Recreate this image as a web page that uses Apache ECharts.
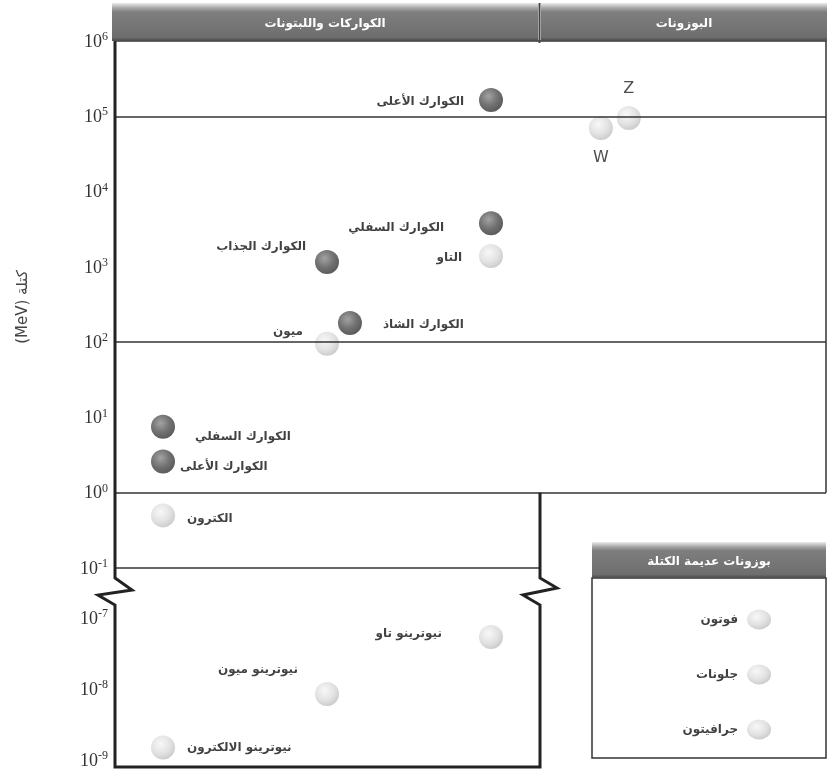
<!DOCTYPE html>
<html lang="ar">
<head>
    <meta charset="UTF-8">
    <title>كتلة الجسيمات</title>
    <style>
        html, body {margin: 0; padding: 0; background: #fff;}
    </style>
</head>
<body>
<div id="chart" style="width: 830px;height: 770px;"></div>
<script src="https://cdn.jsdelivr.net/npm/echarts@6/dist/echarts.min.js"></script>
<script>
    // quarks: up, down, strange, charm, bottom, top
    var quarkNames = ['الكوارك الأعلى', 'الكوارك السفلي', 'الكوارك الشاذ', 'الكوارك الجذاب', 'الكوارك السفلي', 'الكوارك الأعلى'];
    var quarkMass = [2.6, 7.5, 180, 1160, 3800, 165000];
    var quarkColumn = [1, 1, 2.14, 2, 3, 3];

    // charged leptons
    var leptonNames = ['الكترون', 'ميون', 'التاو'];
    var leptonMass = [0.5, 95, 1390];
    var leptonColumn = [1, 2, 3];

    var bosonNames = ['W', 'Z'];
    var bosonMass = [70000, 95000];
    var bosonColumn = [3.67, 3.84];

    var neutrinoNames = ['نيوترينو الالكترون', 'نيوترينو ميون', 'نيوترينو تاو'];
    var neutrinoMass = [1.5e-9, 8.5e-9, 5.4e-8];
    var neutrinoColumn = [1, 2, 3];

    var masslessNames = ['فوتون', 'جلونات', 'جرافيتون'];

    var decadeLines = [1e5, 1e2, 1];
    var headerTitles = ['الكواركات واللبتونات', 'البوزونات', 'بوزونات عديمة الكتلة'];
    var axisTitle = '(MeV) كتلة';

    // layout
    var L = 115, TOP = 41, MID = 540, R = 826;
    var PX = 164;                 // pixels per column
    var XMIN = 1 - 48 / PX;
    var upperMax = XMIN + (R - L) / PX;
    var lowerMax = XMIN + (MID - L) / PX;

    // label placement (style only)
    var quarkLabels = [
        {position: 'right', distance: 5, offset: [0, 5]},
        {position: 'right', distance: 20, offset: [0, 10]},
        {position: 'right', distance: 21, offset: [0, 2]},
        {position: 'left', distance: 9, offset: [0, -15]},
        {position: 'left', distance: 35, offset: [0, 5]},
        {position: 'left', distance: 15, offset: [0, 2]}
    ];
    var leptonLabels = [
        {position: 'right', distance: 12, offset: [0, 3]},
        {position: 'left', distance: 12, offset: [0, -12]},
        {position: 'left', distance: 17, offset: [0, 2]}
    ];
    var bosonLabels = [
        {position: 'bottom', distance: 10},
        {position: 'top', distance: 9}
    ];
    var neutrinoLabels = [
        {position: 'right', distance: 12, offset: [0, 0]},
        {position: 'left', distance: 17, offset: [0, -24]},
        {position: 'left', distance: 37, offset: [0, -3]}
    ];

    var darkBall = {
        type: 'radial', x: 0.4, y: 0.35, r: 0.7,
        colorStops: [{offset: 0, color: '#8c8c8c'}, {offset: 0.55, color: '#4e4e4e'}, {offset: 1, color: '#2e2e2e'}]
    };
    var lightBall = {
        type: 'radial', x: 0.4, y: 0.35, r: 0.7,
        colorStops: [{offset: 0, color: '#f6f6f6'}, {offset: 0.6, color: '#dadada'}, {offset: 1, color: '#bbbbbb'}]
    };
    var arabicFont = {fontFamily: 'DejaVu Sans', fontWeight: 'bold', fontSize: 12, color: '#111'};

    function points (names, mass, column, labels) {
        var res = [];
        for (var i = 0; i < names.length; i++) {
            res.push({
                name: names[i],
                value: [column[i], mass[i]],
                label: labels[i]
            });
        }
        return res;
    }

    function logAxis (gridIndex, min, max) {
        return {
            type: 'log', logBase: 10, gridIndex: gridIndex, min: min, max: max, interval: 1,
            axisLine: {show: false}, axisTick: {show: false}, splitLine: {show: false},
            axisLabel: {
                margin: 7,
                formatter: function (v) {
                    var e = Math.round(Math.log(v) / Math.LN10);
                    return '{b|10}{s|' + e + '}';
                },
                rich: {
                    b: {fontFamily: 'Liberation Serif', fontSize: 18, color: '#333', verticalAlign: 'bottom'},
                    s: {fontFamily: 'Liberation Serif', fontSize: 12, color: '#333', verticalAlign: 'bottom', padding: [0, 0, 8, 0]}
                }
            }
        };
    }

    function hiddenX (gridIndex, min, max) {
        return {type: 'value', gridIndex: gridIndex, min: min, max: max, show: false, splitLine: {show: false}};
    }

    var lineStyle = {color: '#333', width: 1.5, type: 'solid'};

    var option = {
        backgroundColor: '#fff',
        animation: false,
        grid: [
            {left: L, top: TOP, width: R - L, height: 527},
            {left: L, top: 618, width: MID - L, height: 148},
            {left: 592, top: 592, width: 234, height: 165}
        ],
        xAxis: [
            hiddenX(0, XMIN, upperMax),
            hiddenX(1, XMIN, lowerMax),
            hiddenX(2, 0, 1)
        ],
        yAxis: [
            logAxis(0, 0.1, 1e6),
            logAxis(1, 1e-9, 1e-7),
            {type: 'category', gridIndex: 2, data: masslessNames, inverse: true, show: false}
        ],
        series: [
            {
                name: 'quarks', type: 'scatter', xAxisIndex: 0, yAxisIndex: 0,
                symbolSize: 24,
                itemStyle: {color: darkBall},
                label: Object.assign({show: true, formatter: '{b}'}, arabicFont),
                data: points(quarkNames, quarkMass, quarkColumn, quarkLabels),
                markLine: {
                    silent: true, symbol: 'none', label: {show: false}, lineStyle: lineStyle,
                    data: decadeLines.map(function (v) { return {yAxis: v}; }).concat([
                        [{coord: [XMIN, 0.1]}, {coord: [lowerMax, 0.1]}]
                    ])
                },
                z: 3
            },
            {
                name: 'leptons', type: 'scatter', xAxisIndex: 0, yAxisIndex: 0,
                symbolSize: 24,
                itemStyle: {color: lightBall},
                label: Object.assign({show: true, formatter: '{b}'}, arabicFont),
                data: points(leptonNames, leptonMass, leptonColumn, leptonLabels),
                z: 3
            },
            {
                name: 'bosons', type: 'scatter', xAxisIndex: 0, yAxisIndex: 0,
                symbolSize: 24,
                itemStyle: {color: lightBall},
                label: {show: true, formatter: '{b}', fontFamily: 'DejaVu Sans', fontSize: 16, color: '#222'},
                data: points(bosonNames, bosonMass, bosonColumn, bosonLabels),
                z: 3
            },
            {
                name: 'neutrinos', type: 'scatter', xAxisIndex: 1, yAxisIndex: 1,
                symbolSize: 24,
                itemStyle: {color: lightBall},
                label: Object.assign({show: true, formatter: '{b}'}, arabicFont),
                data: points(neutrinoNames, neutrinoMass, neutrinoColumn, neutrinoLabels),
                z: 3
            },
            {
                name: 'massless', type: 'scatter', xAxisIndex: 2, yAxisIndex: 2,
                symbolSize: [24, 20],
                itemStyle: {color: lightBall},
                label: Object.assign({show: true, formatter: '{b}', position: 'left', distance: 9}, arabicFont),
                data: masslessNames.map(function (n) { return [0.714, n]; }),
                z: 3
            }
        ]
    };

    var chart = echarts.init(document.getElementById('chart'));
    chart.setOption(option);

    // frame, headers and break marks
    var y0 = chart.convertToPixel({gridIndex: 0}, [XMIN, 1])[1];
    var headerFill = new echarts.graphic.LinearGradient(0, 0, 0, 1, [
        {offset: 0, color: '#ececec'},
        {offset: 0.14, color: '#a2a2a2'},
        {offset: 0.24, color: '#7e7e7e'},
        {offset: 0.9, color: '#6e6e6e'},
        {offset: 1, color: '#4a4a4a'}
    ]);

    function header (x, y, w, h, text) {
        return [{
            type: 'rect', shape: {x: x, y: y, width: w, height: h}, z: 10,
            style: {fill: headerFill}
        }, {
            type: 'text', x: x + w / 2, y: y + h / 2 + 2, z: 11,
            style: {text: text, fill: '#fff', fontFamily: 'DejaVu Sans', fontWeight: 'bold', fontSize: 12,
                align: 'center', verticalAlign: 'middle'}
        }];
    }

    chart.setOption({
        graphic: [].concat(
            header(112, 3, 426, 38, headerTitles[0]),
            header(541, 3, 286, 38, headerTitles[1]),
            header(592, 542, 234, 36, headerTitles[2]),
            [
                {type: 'line', shape: {x1: 539.5, y1: 3, x2: 539.5, y2: 43}, style: {stroke: '#444', lineWidth: 2}, z: 12},
                {
                    type: 'rect', shape: {x: 592, y: 578, width: 234, height: 180},
                    style: {fill: 'none', stroke: '#333', lineWidth: 1.5}, z: 5
                },
                {
                    type: 'polyline',
                    shape: {points: [[L, TOP], [L, 578], [132, 590], [98, 595], [L, 605], [L, 767],
                        [MID, 767], [MID, 605], [523, 595], [557, 588], [MID, 578], [MID, y0]]},
                    style: {fill: 'none', stroke: '#222', lineWidth: 3}, z: 5
                },
                {
                    type: 'polyline',
                    shape: {points: [[L, TOP], [R, TOP], [R, y0]]},
                    style: {fill: 'none', stroke: '#333', lineWidth: 1.5}, z: 5
                },
                {
                    type: 'text', x: 23, y: 307, rotation: Math.PI / 2,
                    style: {text: axisTitle, fill: '#444', fontFamily: 'DejaVu Sans', fontSize: 15,
                        align: 'center', verticalAlign: 'middle'}
                }
            ]
        )
    });
</script>
</body>
</html>
